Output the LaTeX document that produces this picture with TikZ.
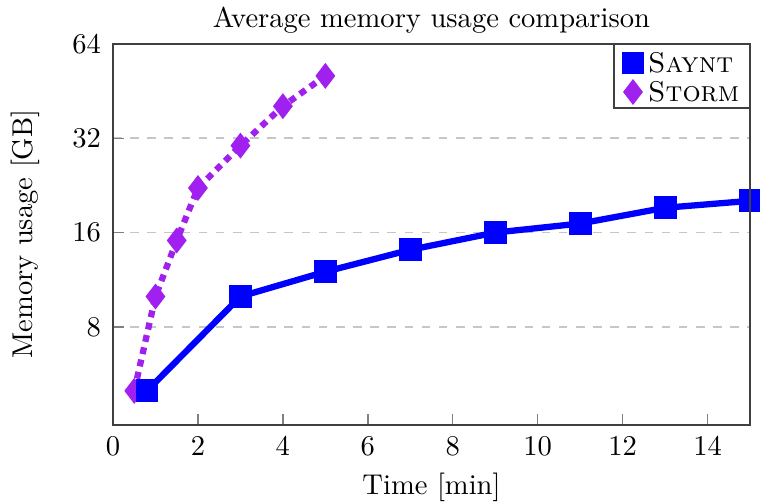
\documentclass[tikz,border=0pt]{standalone}
\usepackage{tikz}
\usetikzlibrary{shapes.geometric}

\definecolor{stormpurple}{RGB}{160,32,240}

\tikzset{
  saynt line/.style={blue,line width=2.2pt,line join=round},
  storm line/.style={stormpurple,line width=2.2pt,dash pattern=on 2.4pt off 2pt},
  saynt mark/.style={rectangle,fill=blue,draw=blue,inner sep=0pt,minimum size=7.6pt},
  storm mark/.style={diamond,fill=stormpurple,draw=stormpurple,inner sep=0pt,
    minimum width=6.6pt,minimum height=8.6pt},
  grid line/.style={gray!45,dashed,line width=0.6pt},
  tick line/.style={gray,line width=0.5pt}
}

\begin{document}
\begin{tikzpicture}[x=14.86pt,y=33pt]
  % picture frame
  \useasboundingbox (-2.661,1.143) rectangle (15.234,6.4666);

  % grid lines at 8, 16, 32
  \foreach \v in {8,16,32}
    \draw[grid line] (0,{ln(\v)/ln(2)}) -- (15,{ln(\v)/ln(2)});

  % ticks
  \foreach \t in {2,4,...,14}
    \draw[tick line] (\t,1.96) -- ++(0,4pt);
  \foreach \v in {8,16,32}
    \draw[tick line] (0,{ln(\v)/ln(2)}) -- ++(4pt,0);

  % data
  \foreach \t/\v [count=\i] in {0.8/5,3/10,5/12,7/14.1,9/16,11/17.1,13/19.2,15/20.2}
    \coordinate (s\i) at (\t,{ln(\v)/ln(2)});
  \foreach \t/\v [count=\i] in {0.5/5,1/10,1.5/15.1,2/22.2,3/30.3,4/40.5,5/50.6}
    \coordinate (r\i) at (\t,{ln(\v)/ln(2)});

  \draw[storm line] (r1) \foreach \i in {2,...,7} { -- (r\i) };
  \foreach \i in {1,...,7}
    \node[storm mark] (rm\i) at (r\i) {};

  \draw[saynt line] (s1) \foreach \i in {2,...,8} { -- (s\i) };
  \foreach \i in {1,...,8}
    \node[saynt mark] (sm\i) at (s\i) {};

  % axis box
  \draw[black!75,line width=0.6pt] (0,1.96) rectangle (15,6);

  % tick labels
  \foreach \t in {0,2,...,14}
    \node[below,inner sep=4pt] (xl\t) at (\t,1.96) {$\t$};
  \foreach \v in {8,16,32,64}
    \node[left,inner sep=4pt] (yl\v) at (0,{ln(\v)/ln(2)}) {$\v$};

  % labels
  \node (title) at (7.5,6.2545) {Average memory usage comparison};
  \node (xlabel) at (7.5,1.302) {Time [min]};
  \node[rotate=90] (ylabel) at (-2.06,3.985) {Memory usage [GB]};

  % legend
  \draw[draw=black!75,fill=white,line width=0.6pt] (11.797,5.3213) rectangle (15,6);
  \node[saynt mark] (lsm) at (12.244,5.7985) {};
  \node[storm mark] (lrm) at (12.244,5.491) {};
  \node[anchor=west,inner sep=1pt] (lst) at (12.52,5.7985) {\textsc{Saynt}};
  \node[anchor=west,inner sep=1pt] (lrt) at (12.52,5.491) {\textsc{Storm}};
\end{tikzpicture}
\end{document}
